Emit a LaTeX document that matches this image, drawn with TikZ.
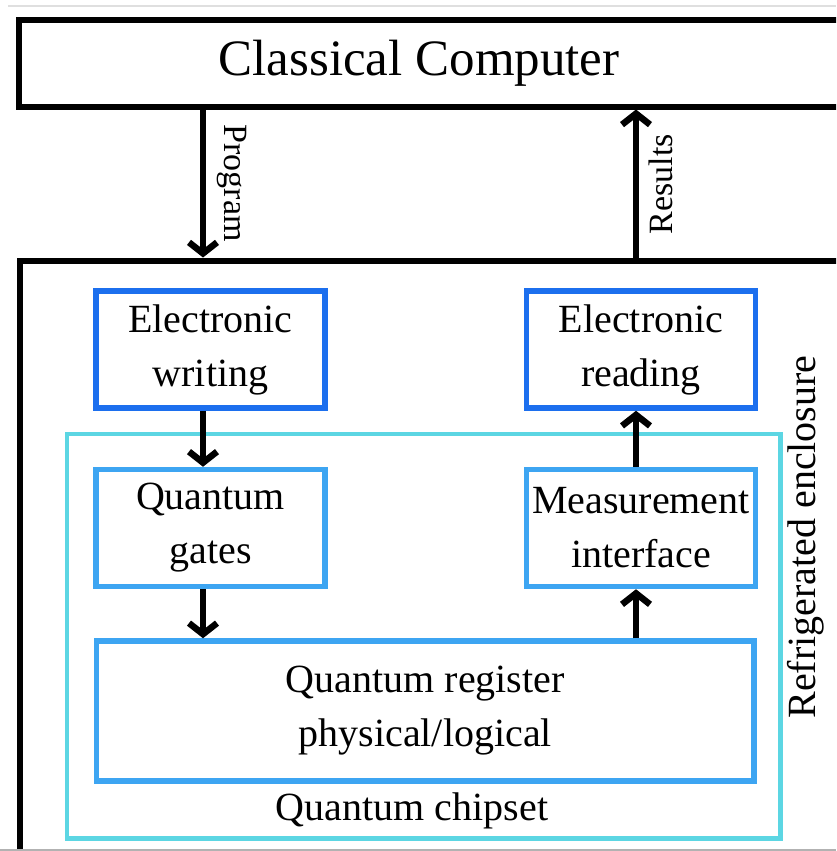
\documentclass[tikz,border=0pt]{standalone}
\usepackage{fontspec}
\setmainfont{Liberation Serif}
\usetikzlibrary{arrows.meta}

\definecolor{ctrlblue}{HTML}{1C6FEE}
\definecolor{chipblue}{HTML}{3DA5F2}
\definecolor{chipcyan}{HTML}{5CD6E3}

\begin{document}
\begin{tikzpicture}[x=1pt,y=-1pt,
    box/.style={draw, line width=5.5pt, minimum width=229pt, minimum height=117pt,
        align=center, inner sep=0pt, font=\fontsize{40}{54}\selectfont},
    arr/.style={line width=6.5pt, -{Straight Barb[length=11pt,width=28pt]}},
    sidelabel/.style={font=\fontsize{34}{40}\selectfont}]

    % Page frame
    \useasboundingbox (0,0) rectangle (836,851);
    \clip (0,0) rectangle (836,851);
    \draw[gray!25, line width=2pt] (8,6) -- (836,6);

    % Classical computer and enclosure (both run off the right edge)
    \node[draw, line width=6pt, minimum width=881.5pt, minimum height=86pt] (computer) at (459.25,63.5) {};
    \node[font=\fontsize{51}{60}\selectfont] (title) at (419,63) {Classical Computer};
    \node[draw, line width=6pt, minimum width=880pt, minimum height=639.5pt] (enclosure) at (460,580.25) {};
    \node[rotate=90, font=\fontsize{40}{48}\selectfont] (fridge) at (806,537) {Refrigerated enclosure};

    % Quantum chipset
    \node[draw=chipcyan, line width=4.5pt, minimum width=713.5pt, minimum height=404.5pt] (chipset) at (423.75,636.25) {};
    \node[font=\fontsize{40}{48}\selectfont] (chiplabel) at (412,811) {Quantum chipset};

    % Boxes
    \node[box, draw=ctrlblue] (writing) at (210.5,349.5) {Electronic\\writing};
    \node[box, draw=ctrlblue] (reading) at (641,349.5) {Electronic\\reading};
    \node[box, draw=chipblue] (gates) at (210.5,528) {Quantum\\gates};
    \node[box, draw=chipblue] (measure) at (641,528) {Measurement\\interface};
    \node[box, draw=chipblue, minimum width=657.5pt, minimum height=140pt] (register) at (425.25,711) {Quantum register\\physical/logical};

    % Arrow columns
    \coordinate (progx) at (203,0);
    \coordinate (resx) at (636,0);

    % Connectors
    \draw[arr] (computer.south -| progx) -- (enclosure.north -| progx);
    \draw[arr] (enclosure.north -| resx) -- (computer.south -| resx);
    \draw[arr] (writing.south -| progx) -- (gates.north -| progx);
    \draw[arr] (gates.south -| progx) -- (register.north -| progx);
    \draw[arr] (register.north -| resx) -- (measure.south -| resx);
    \draw[arr] (measure.north -| resx) -- (reading.south -| resx);

    % Arrow labels
    \node[sidelabel, rotate=-90] (proglabel) at (232,183) {Program};
    \node[sidelabel, rotate=90] (reslabel) at (661,184) {Results};

    \draw[gray!60, line width=2pt] (0,849.5) -- (836,849.5);

\end{tikzpicture}
\end{document}
